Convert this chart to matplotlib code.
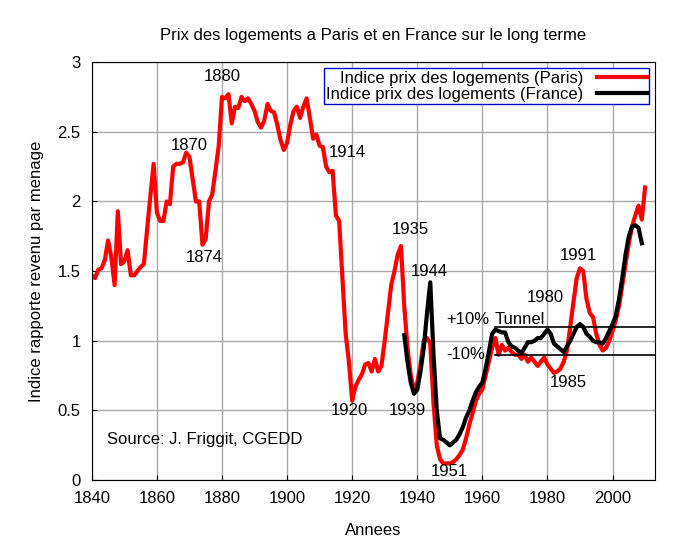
import matplotlib
matplotlib.use("Agg")
import matplotlib.pyplot as plt

plt.rcParams['font.family'] = ['Liberation Sans', 'DejaVu Sans']

paris_years = list(range(1840, 2011))
paris = [1.47, 1.45, 1.51, 1.52, 1.58, 1.72, 1.60, 1.40, 1.93, 1.55,
         1.57, 1.65, 1.47, 1.47, 1.50, 1.53, 1.55, 1.80, 2.04, 2.27,
         1.92, 1.86, 1.86, 2.00, 1.98, 2.25, 2.27, 2.27, 2.28, 2.35,
         2.32, 2.16, 2.00, 2.00, 1.69, 1.73, 2.00, 2.05, 2.22, 2.40,
         2.75, 2.74, 2.77, 2.56, 2.68, 2.67, 2.75, 2.72, 2.74, 2.70,
         2.65, 2.57, 2.53, 2.58, 2.70, 2.65, 2.64, 2.55, 2.44, 2.37,
         2.42, 2.55, 2.65, 2.68, 2.60, 2.68, 2.74, 2.60, 2.45, 2.48,
         2.40, 2.39, 2.25, 2.21, 2.22, 1.90, 1.86, 1.45, 1.05, 0.85,
         0.57, 0.67, 0.72, 0.76, 0.83, 0.84, 0.78, 0.87, 0.78, 0.82,
         1.00, 1.20, 1.40, 1.50, 1.62, 1.68, 1.25, 0.95, 0.75, 0.65,
         0.70, 0.83, 1.00, 1.02, 0.98, 0.55, 0.25, 0.15, 0.12, 0.12,
         0.12, 0.13, 0.15, 0.18, 0.22, 0.30, 0.40, 0.48, 0.57, 0.62,
         0.65, 0.75, 0.85, 0.95, 1.02, 0.90, 0.97, 0.93, 0.95, 0.92,
         0.90, 0.90, 0.87, 0.90, 0.85, 0.88, 0.85, 0.82, 0.85, 0.88,
         0.83, 0.80, 0.77, 0.78, 0.80, 0.85, 0.93, 1.10, 1.28, 1.45,
         1.52, 1.50, 1.30, 1.20, 1.17, 1.05, 0.97, 0.93, 0.95, 1.00,
         1.07, 1.15, 1.25, 1.40, 1.55, 1.70, 1.82, 1.90, 1.97, 1.87,
         2.10]

france_years = list(range(1936, 2010))
france = [1.04, 0.85, 0.70, 0.62, 0.65, 0.78, 0.95, 1.20, 1.42, 0.90,
          0.50, 0.30, 0.29, 0.27, 0.25, 0.27, 0.29, 0.33, 0.38, 0.45,
          0.50, 0.57, 0.63, 0.67, 0.70, 0.80, 0.92, 1.05, 1.08, 1.07,
          1.06, 1.06, 0.99, 0.96, 0.95, 0.93, 0.91, 0.95, 0.99, 0.99,
          1.00, 1.02, 1.02, 1.05, 1.08, 1.05, 0.98, 0.96, 0.94, 0.92,
          0.96, 1.00, 1.05, 1.10, 1.12, 1.10, 1.05, 1.03, 1.00, 0.99,
          0.99, 0.98, 1.02, 1.07, 1.12, 1.18, 1.30, 1.45, 1.62, 1.75,
          1.82, 1.83, 1.81, 1.70]

labels = [("1880", 1880, 2.9), ("1870", 1870, 2.4), ("1874", 1874.4, 1.6),
          ("1914", 1918.6, 2.35), ("1920", 1919, 0.5), ("1935", 1938, 1.8),
          ("1944", 1943.8, 1.5), ("1939", 1937, 0.5), ("1951", 1950, 0.06),
          ("1980", 1979.4, 1.31), ("1991", 1989.6, 1.61), ("1985", 1986.5, 0.70),
          ("+10%", 1955.5, 1.15), ("Tunnel", 1971.5, 1.15), ("-10%", 1955, 0.90)]

fig = plt.figure(figsize=(6.8, 5.45), dpi=100)
ax = fig.add_axes([0.135, 0.119, 0.828, 0.767])

ax.plot(paris_years, paris, color="#ff0000", lw=3, label="Indice prix des logements (Paris)")
ax.plot(france_years, france, color="black", lw=3, label="Indice prix des logements (France)")
ax.plot([1964, 2013], [1.1, 1.1], color="black", lw=1.2)
ax.plot([1964, 2013], [0.9, 0.9], color="black", lw=1.2)

for txt, x, y in labels:
    ax.text(x, y, txt, ha="center", va="center", fontsize=12)
ax.text(1844.6, 0.295, "Source: J. Friggit, CGEDD", ha="left", va="center", fontsize=12)

ax.set_xlim(1840, 2013)
ax.set_ylim(0, 3)
ax.set_xticks(range(1840, 2001, 20))
ax.set_yticks([0, 0.5, 1, 1.5, 2, 2.5, 3])
ax.set_yticklabels(["0", "0.5", "1", "1.5", "2", "2.5", "3"])
ax.tick_params(labelsize=12, direction="in", pad=8)
ax.grid(True, color="#aaaaaa", lw=1)
ax.set_xlabel("Annees", fontsize=12, labelpad=12)
ax.set_ylabel("Indice rapporte revenu par menage", fontsize=12, labelpad=10)
ax.set_title("Prix des logements a Paris et en France sur le long terme", fontsize=12, pad=16)

leg = ax.legend(loc="upper right", bbox_to_anchor=(0.99, 0.985), markerfirst=False,
                fancybox=False, framealpha=1, fontsize=12, borderpad=0.15,
                labelspacing=0.05, handlelength=3, borderaxespad=0)
leg.get_frame().set_edgecolor("#0000cc")

fig.savefig("out.png", dpi=100)
